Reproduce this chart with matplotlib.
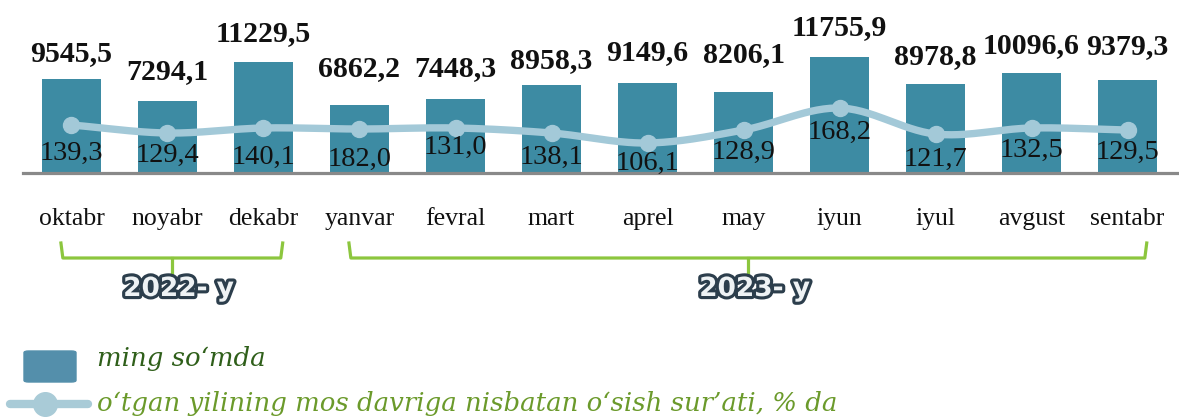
"""Monthly values (ming so'mda) with growth-rate line, oct 2022 - sep 2023."""
import matplotlib.pyplot as plt
import matplotlib.patheffects as pe
from matplotlib.patches import FancyBboxPatch
from matplotlib.lines import Line2D
from matplotlib.transforms import blended_transform_factory
import numpy as np

months = ["oktabr", "noyabr", "dekabr", "yanvar", "fevral", "mart",
          "aprel", "may", "iyun", "iyul", "avgust", "sentabr"]
amounts = [9545.5, 7294.1, 11229.5, 6862.2, 7448.3, 8958.3,
           9149.6, 8206.1, 11755.9, 8978.8, 10096.6, 9379.3]
# growth line as drawn in the picture, and the labels printed on it
growth_drawn = [138.3, 124.1, 133.0, 131.2, 133.0, 124.1,
                106.4, 129.4, 168.4, 122.3, 133.0, 129.4]
growth_labels = ["139,3", "129,4", "140,1", "182,0", "131,0", "138,1",
                 "106,1", "128,9", "168,2", "121,7", "132,5", "129,5"]
years = ["2022- y", "2023- y"]
year_ranges = [(0, 2), (3, 11)]

# label offsets in pixels (labels were hand-placed in the original)
bar_lab_dy = [25, 29, 29, 37, 31, 24, 30, 37, 29, 28, 28, 34]
line_lab_dy = [28, 22, 29, 30, 19, 24, 20, 22, 24, 25, 22, 22]

W, H = 1179, 419
fig = plt.figure(figsize=(W / 100, H / 100), dpi=100)
ax = fig.add_axes([23 / W, (H - 173) / H, 1 - 23 / W, 173 / H])
ax2 = ax.twinx()

BAR = "#3d8ba3"
LINE = "#a3c9d8"
GREEN = "#8cc63e"
serif = "Liberation Serif"
PX = 0.72  # points per pixel at 100 dpi

x = np.arange(len(months))
ax.bar(x, amounts, width=0.615, color=BAR, zorder=2)
ax.set_xlim(-0.505, 11.536)
ax.set_ylim(0, 17528)
ax.axhline(0, color="#898989", lw=2.3, zorder=3, clip_on=False)

for i, v in enumerate(amounts):
    ax.annotate(f"{v:.1f}".replace(".", ","), (i, v),
                xytext=(0, bar_lab_dy[i] * PX), textcoords="offset points",
                ha="center", va="center", fontsize=21.5, fontweight="bold",
                family=serif, color="#111111", annotation_clip=False)


def smooth(xs, ys, n=30):
    # Catmull-Rom curve through the points, like the spreadsheet's smoothed line
    xs, ys = np.asarray(xs, float), np.asarray(ys, float)
    px = np.concatenate([[2 * xs[0] - xs[1]], xs, [2 * xs[-1] - xs[-2]]])
    py = np.concatenate([[2 * ys[0] - ys[1]], ys, [2 * ys[-1] - ys[-2]]])
    ox, oy = [], []
    t = np.linspace(0, 1, n, endpoint=False)
    for k in range(1, len(px) - 2):
        for arr, out in ((px, ox), (py, oy)):
            p0, p1, p2, p3 = arr[k - 1:k + 3]
            out.extend(0.5 * (2 * p1 + (-p0 + p2) * t
                              + (2 * p0 - 5 * p1 + 4 * p2 - p3) * t ** 2
                              + (-p0 + 3 * p1 - 3 * p2 + p3) * t ** 3))
    ox.append(xs[-1])
    oy.append(ys[-1])
    return ox, oy


sx, sy = smooth(x, growth_drawn)
ax2.plot(sx, sy, color=LINE, lw=5.3, solid_capstyle="round", zorder=4)
ax2.plot(x, growth_drawn, "o", color=LINE, ms=11.5, zorder=5)
ax2.set_ylim(53.2, 359.9)
for i, v in enumerate(growth_drawn):
    ax2.annotate(growth_labels[i], (i, v),
                 xytext=(0, -line_lab_dy[i] * PX), textcoords="offset points",
                 ha="center", va="center", fontsize=20.5, family=serif,
                 color="#111111", zorder=6, annotation_clip=False)

for a in (ax, ax2):
    a.set_xticks([])
    a.set_yticks([])
    for s in a.spines.values():
        s.set_visible(False)
ax.set_zorder(1)
ax2.set_zorder(2)

# month names and year brackets (x in data, y in figure pixels from top)
tr = blended_transform_factory(ax.transData, fig.transFigure)
fy = lambda py: (H - py) / H
for i, m in enumerate(months):
    fig.text(i, fy(219), m, transform=tr, ha="center", va="center",
             fontsize=18.5, family=serif, color="#111111")

for (a, b), lab in zip(year_ranges, years):
    left, right = a - 0.11, b + 0.2
    mid = (left + right) / 2
    fig.add_artist(Line2D([left, left + 0.02, right - 0.02, right],
                          [fy(243), fy(258), fy(258), fy(243)], transform=tr,
                          color=GREEN, lw=2.3, solid_joinstyle="round"))
    fig.add_artist(Line2D([mid, mid], [fy(258), fy(274)], transform=tr,
                          color=GREEN, lw=2.3))
    fig.text(mid + 0.07, fy(289), lab, transform=tr, ha="center", va="center",
             fontsize=19, fontweight="bold", family="DejaVu Sans",
             color="#eef2f4",
             path_effects=[pe.withStroke(linewidth=4.5, foreground="#2c3e4c")])

# legend
fig.add_artist(FancyBboxPatch((24 / W, fy(382)), 52 / W, 31 / H,
                              boxstyle="round,pad=0,rounding_size=0.004",
                              transform=fig.transFigure, color="#548fab"))
fig.text(97 / W, fy(358), "ming so\u2018mda", ha="left", va="center",
         fontsize=18.7, style="italic", family="DejaVu Serif", color="#2f5f1a")
fig.add_artist(Line2D([10 / W, 88 / W], [fy(404), fy(404)],
                      transform=fig.transFigure, color="#a9cbd7", lw=6,
                      solid_capstyle="round"))
fig.add_artist(Line2D([45 / W], [fy(404)], transform=fig.transFigure,
                      marker="o", ms=17, color="#a9cbd7"))
fig.text(97 / W, fy(403),
         "o\u2018tgan yilining mos davriga nisbatan o\u2018sish sur\u2019ati, % da",
         ha="left", va="center", fontsize=18.7, style="italic",
         family="DejaVu Serif", color="#6b9a2b")

fig.savefig("out.png", dpi=100)
